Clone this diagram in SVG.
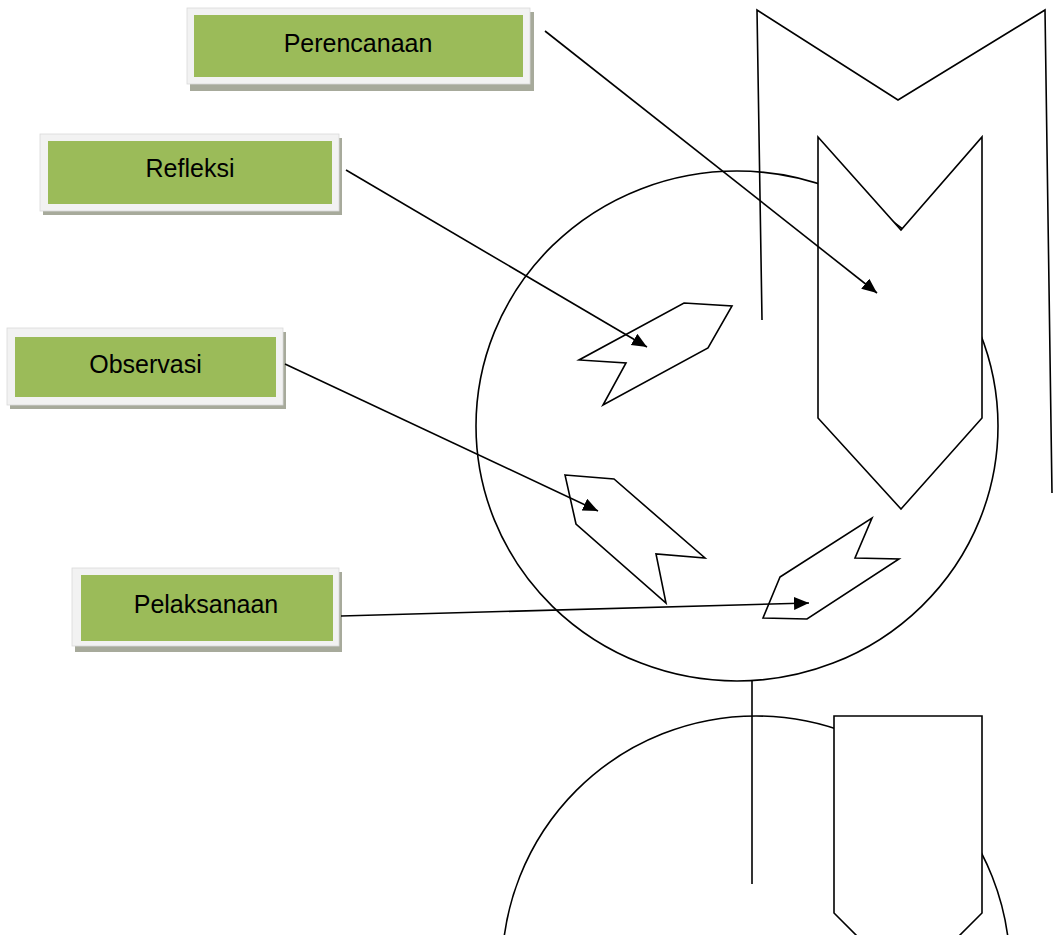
<svg xmlns="http://www.w3.org/2000/svg" width="1053" height="935" viewBox="0 0 1053 935">
<style>
.ln{fill:none;stroke:#000;stroke-width:1.6;stroke-linejoin:miter}
.sh{fill:#fff;stroke:#000;stroke-width:1.6;stroke-linejoin:miter}
.shadow{fill:#a7aa9b}
.frame{fill:#f2f2f2;stroke:#d9d9d9;stroke-width:0.8}
.green{fill:#9bbb59}
.lbl{font-family:"Liberation Sans",Arial,sans-serif;font-size:25px;fill:#000;text-anchor:middle}
.arr{fill:none;stroke:#000;stroke-width:1.6;marker-end:url(#ah)}
</style>
<defs>
<marker id="ah" markerUnits="userSpaceOnUse" markerWidth="16" markerHeight="14" refX="15" refY="6.5" orient="auto">
<path d="M0,0 L15,6.5 L0,13 z" fill="#000"/>
</marker>
</defs>
<rect width="1053" height="935" fill="#fff"/>

<g id="shapes">
<ellipse id="circle-top" class="ln" cx="737" cy="426" rx="261" ry="255"/>
<circle id="circle-bottom" class="ln" cx="756" cy="970" r="254"/>
<polyline id="big-chevron" class="ln" points="762,320 757,10 898,100 1045,10 1052,493"/>
<polygon id="inner-chevron" class="sh" points="818,137 901,230 982,137 982,418 901,509 818,418"/>
<polygon id="shape-a" class="sh" points="684,303 732,306 708,348 603,405 626,363 579,360"/>
<polygon id="shape-b" class="sh" points="565,475 614,479 705,558 656,554 666,603 576,524"/>
<polygon id="shape-c" class="sh" points="780,577 872,518 855,558 899,559 807,619 763,618"/>
<line id="link-line" class="ln" x1="752" y1="681" x2="752" y2="884"/>
<polygon id="lower-shape" class="sh" points="834,716 982,716 982,913 908,987 834,913"/>
</g>

<g id="node-perencanaan">
<rect class="shadow" x="190" y="12" width="344" height="79"/>
<rect class="frame" x="187" y="8" width="343" height="76"/>
<rect class="green" x="194" y="15" width="329" height="62"/>
<text class="lbl" x="358" y="52">Perencanaan</text>
</g>
<g id="node-refleksi">
<rect class="shadow" x="43" y="138" width="299" height="77"/>
<rect class="frame" x="40" y="134" width="299" height="77"/>
<rect class="green" x="48" y="141" width="284" height="63"/>
<text class="lbl" x="190" y="177">Refleksi</text>
</g>
<g id="node-observasi">
<rect class="shadow" x="10" y="332" width="276" height="77"/>
<rect class="frame" x="7" y="328" width="276" height="77"/>
<rect class="green" x="15" y="337" width="261" height="60"/>
<text class="lbl" x="145.5" y="373">Observasi</text>
</g>
<g id="node-pelaksanaan">
<rect class="shadow" x="75" y="572" width="267" height="80"/>
<rect class="frame" x="72" y="568" width="267" height="78"/>
<rect class="green" x="81" y="575" width="252" height="66"/>
<text class="lbl" x="206" y="613">Pelaksanaan</text>
</g>

<g id="connectors">
<line class="arr" x1="545" y1="31" x2="877" y2="293"/>
<line class="arr" x1="346" y1="170" x2="647" y2="347"/>
<line class="arr" x1="285" y1="364" x2="598" y2="511"/>
<line class="arr" x1="341" y1="616" x2="809" y2="603"/>
</g>
</svg>
